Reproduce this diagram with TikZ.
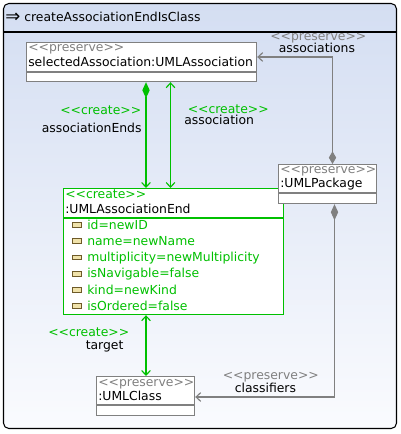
\documentclass[tikz,border=0pt]{standalone}
\usepackage{fontspec}
\setmainfont{DejaVu Sans}[Ligatures=TeXOff]
\usetikzlibrary{arrows.meta}
\definecolor{bgtop}{RGB}{212,222,242}
\definecolor{bgbot}{RGB}{250,251,254}
\definecolor{grn}{RGB}{0,192,0}
\definecolor{gry}{RGB}{128,128,128}
\definecolor{ink}{RGB}{0,0,0}
\definecolor{iconf}{RGB}{240,226,170}
\definecolor{icond}{RGB}{110,90,40}
\begin{document}
\begin{tikzpicture}[x=0.75pt,y=-0.75pt,
  font=\fontsize{9.3}{11}\selectfont,
  gbox/.style={draw=gry, fill=white, line width=0.9pt, inner sep=0pt, anchor=north west},
  cbox/.style={draw=grn, fill=white, line width=0.9pt, inner sep=0pt, anchor=north west},
  txt/.style={inner sep=0pt, anchor=base west, text=ink},
  ster/.style={inner sep=0pt, anchor=base west, text=gry},
  cster/.style={inner sep=0pt, anchor=base west, text=grn},
  attr/.style={inner sep=0pt, anchor=base west, text=grn},
  icon/.style={draw=icond, fill=iconf, line width=0.6pt, inner sep=0pt, minimum width=6.8pt, minimum height=3.5pt},
  glink/.style={draw=grn, line width=0.85pt},
  plink/.style={draw=gry, line width=0.85pt},
  lbl/.style={inner sep=0pt, anchor=base west}
]
\useasboundingbox (0,0) rectangle (400,434);
% frame
\shade[top color=bgtop, bottom color=bgbot, rounded corners=4pt] (3.5,3.5) rectangle (396.5,428.5);
\draw[line width=0.8pt, ink, rounded corners=4pt] (3.5,3.5) rectangle (396.5,428.5);
\draw[line width=0.8pt, ink] (3.5,32) -- (396.5,32);
\node[inner sep=0pt, anchor=base west] (arrowsym) at (5,22.5) {\fontsize{13.5}{14}\selectfont ⇒};
\node[txt] (title) at (24,22) {createAssociationEndIsClass};

% boxes
\node[gbox, minimum width=172.5pt, minimum height=29.25pt] (sa) at (26,42) {};
\draw[gry, line width=0.9pt] (sa.west |- 0,72) -- (sa.east |- 0,72);
\node[ster] (sas) at (28,52) {<<preserve>>};
\node[txt] (san) at (28,67) {selectedAssociation:UMLAssociation};

\node[cbox, minimum width=165pt, minimum height=94.5pt] (ae) at (63,188) {};
\draw[grn, line width=0.9pt] (ae.west |- 0,218) -- (ae.east |- 0,218);
\node[cster] (aes) at (65,199) {<<create>>};
\node[txt] (aen) at (65,213.5) {:UMLAssociationEnd};
\foreach \i/\t in {0/id=newID,1/name=newName,2/multiplicity=newMultiplicity,3/isNavigable=false,4/kind=newKind,5/isOrdered=false}{
  \node[icon] (ic\i) at (76.5,225+\i*16.2) {};
  \node[attr] (at\i) at (87,229.3+\i*16.2) {\t};
}

\node[gbox, minimum width=73.5pt, minimum height=29.25pt] (pk) at (278,164) {};
\draw[gry, line width=0.9pt] (pk.west |- 0,193) -- (pk.east |- 0,193);
\node[ster] (pks) at (280,174) {<<preserve>>};
\node[txt] (pkn) at (280,188) {:UMLPackage};

\node[gbox, minimum width=73.5pt, minimum height=29.25pt] (uc) at (96,376) {};
\draw[gry, line width=0.9pt] (uc.west |- 0,405) -- (uc.east |- 0,405);
\node[ster] (ucs) at (98,386) {<<preserve>>};
\node[txt] (ucn) at (98,400.5) {:UMLClass};

% helper coordinates
\coordinate (xa) at (146,0);
\coordinate (xb) at (170.5,0);
\coordinate (xt) at (146,0);
\coordinate (xp1) at (332.5,0);
\coordinate (xp2) at (334.5,0);
\coordinate (ya) at (0,57);
\coordinate (yc) at (0,397);

% associationEnds (composition)
\draw[glink, {Diamond[length=12pt,width=5.5pt]}-{Straight Barb[length=3.5pt,width=6.5pt]}] (sa.south -| xa) -- (ae.north -| xa);
% association
\draw[glink, {Straight Barb[length=3.5pt,width=6.5pt]}-{Straight Barb[length=3.5pt,width=6.5pt]}] (ae.north -| xb) -- (sa.south -| xb);
% target
\draw[glink, {Straight Barb[length=3.5pt,width=6.5pt]}-{Straight Barb[length=3.5pt,width=6.5pt]}] (ae.south -| xt) -- (uc.north -| xt);
% associations
\draw[plink, {Diamond[length=9.5pt,width=5.5pt]}-{Straight Barb[length=3.5pt,width=6.5pt]}] (pk.north -| xp1) -- (xp1 |- ya) -- (sa.east |- ya);
% classifiers
\draw[plink, {Diamond[length=12pt,width=5.5pt]}-{Straight Barb[length=3.5pt,width=6.5pt]}] (pk.south -| xp2) -- (xp2 |- yc) -- (uc.east |- yc);

% labels
\node[lbl, text=grn] (l1) at (60,114.5) {<<create>>};
\node[lbl, text=ink] (l2) at (41.5,133) {associationEnds};
\node[lbl, text=grn] (l3) at (187.5,113.5) {<<create>>};
\node[lbl, text=ink] (l4) at (184,125) {association};
\node[lbl, text=grn] (l5) at (48,336) {<<create>>};
\node[lbl, text=ink] (l6) at (85.5,349.5) {target};
\node[lbl, text=gry] (l7) at (270,40.5) {<<preserve>>};
\node[lbl, text=ink] (l8) at (278.5,52.5) {associations};
\node[lbl, text=gry] (l9) at (222.5,379.5) {<<preserve>>};
\node[lbl, text=ink] (l10) at (234.5,392.5) {classifiers};
\end{tikzpicture}
\end{document}
